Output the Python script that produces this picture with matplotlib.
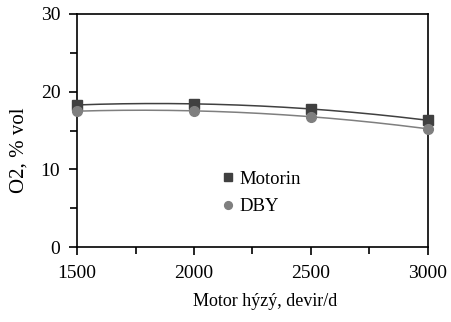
import numpy as np
import matplotlib
matplotlib.use("Agg")
import matplotlib.pyplot as plt
from matplotlib.transforms import Bbox

# data
rpm = [1500, 2000, 2500, 3000]
motorin = [18.3, 18.4, 17.8, 16.3]
dby = [17.5, 17.5, 16.8, 15.2]

W, H = 452, 322
plt.rcParams['font.family'] = ['Liberation Serif', 'DejaVu Serif']
plt.rcParams['font.size'] = 14

fig = plt.figure(figsize=(W / 100, H / 100), dpi=100)
# axes box in pixels: left 77, right 428, top 14, bottom 247
ax = fig.add_axes([77 / W, 1 - 247 / H, (428 - 77) / W, (247 - 14) / H])

# polynomial trend lines (like the spreadsheet trendline)
xs = np.linspace(1500, 3000, 200)
for ys, col in [(motorin, '#404040'), (dby, '#7f7f7f')]:
    p = np.polyfit(rpm, ys, 2)
    ax.plot(xs, np.polyval(p, xs), color=col, lw=1.1, zorder=2)

ax.plot(rpm, motorin, ls='none', marker='s', ms=7, color='#404040',
        label='Motorin', zorder=3, clip_on=False)
ax.plot(rpm, dby, ls='none', marker='o', ms=7, color='#7f7f7f',
        label='DBY', zorder=3, clip_on=False)

ax.set_xlim(1500, 3000)
ax.set_ylim(0, 30)
ax.set_xticks([1500, 2000, 2500, 3000])
ax.set_xticks([1750, 2250, 2750], minor=True)
ax.set_yticks([0, 10, 20, 30])
ax.set_yticks([5, 15, 25], minor=True)
ax.tick_params(which='both', direction='out', width=1.2, colors='black',
               labelsize=14)
ax.tick_params(which='major', length=6, pad=7)
ax.tick_params(which='minor', length=5)
ax.tick_params(axis='y', which='major', pad=6)
for s in ax.spines.values():
    s.set_linewidth(1.2)

leg = ax.legend(loc='upper left', bbox_to_anchor=(125 / 351, 1 - 140 / 233),
                frameon=False, handletextpad=0.1, labelspacing=0.55,
                handlelength=1.0, markerscale=0.8, fontsize=13.5)

fig.text(19 / W, 1 - 150 / H, 'O2, % vol', rotation=90, ha='center',
         va='center', fontsize=15)
xl = fig.text(193 / W, 1 - 302 / H, 'Motor hýzý, devir/dak', ha='left',
              va='center', fontsize=13)
xl.set_clip_box(Bbox.from_extents(0, 0, 338, H))
xl.set_clip_on(True)

fig.savefig('out.png', dpi=100)
